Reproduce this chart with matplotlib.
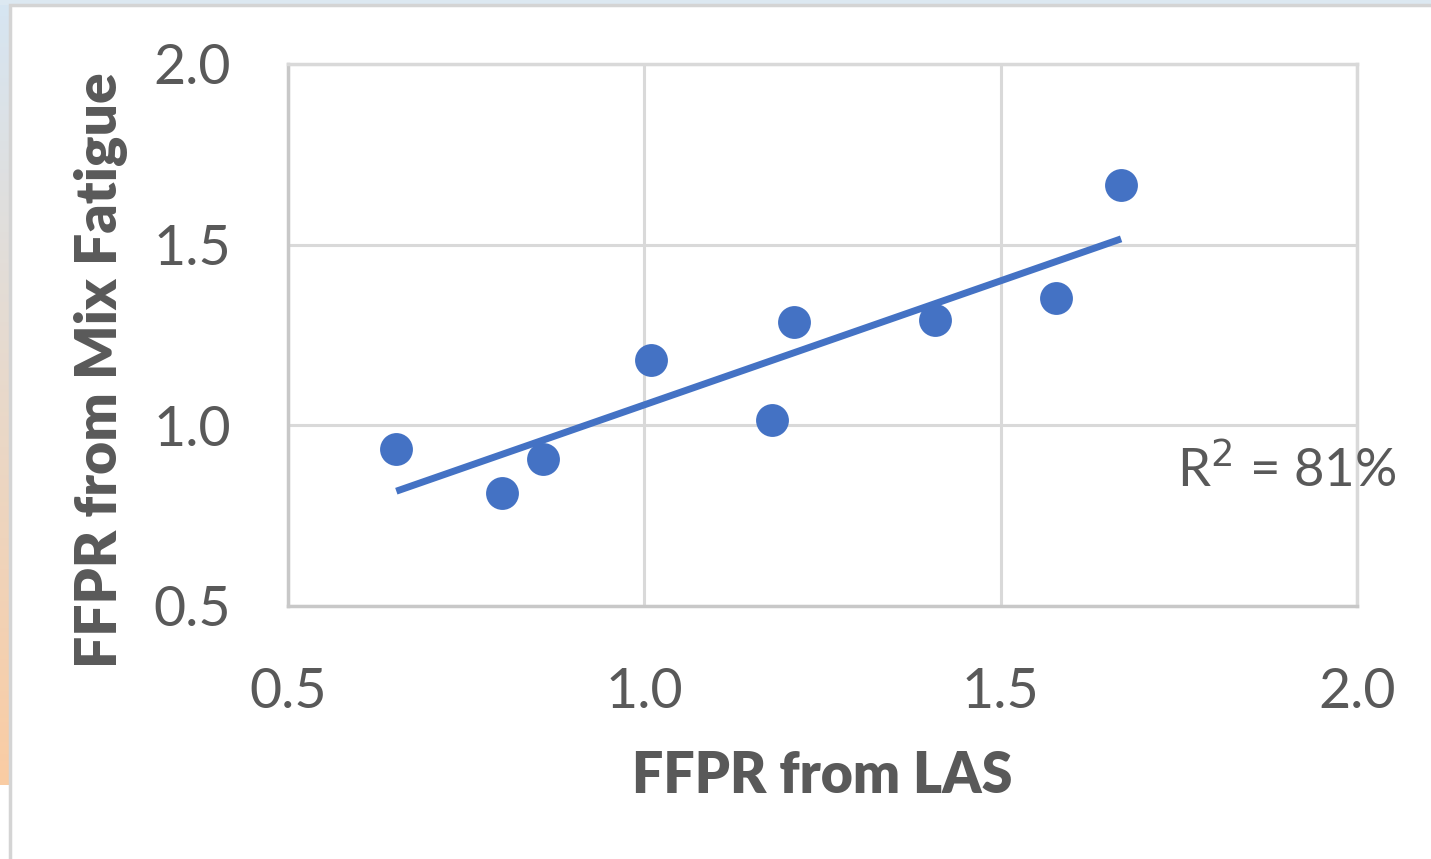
import numpy as np
import matplotlib
matplotlib.use("Agg")
import matplotlib.pyplot as plt
from matplotlib.patches import Rectangle

# Data
ffpr_las = [0.652, 0.800, 0.858, 1.009, 1.179, 1.210, 1.408, 1.578, 1.669]
ffpr_mix = [0.935, 0.813, 0.907, 1.181, 1.015, 1.286, 1.292, 1.352, 1.665]
tick_vals = [0.5, 1.0, 1.5, 2.0]
tick_labels = ["0.5", "1.0", "1.5", "2.0"]
r2_label = "R$^2$ = 81%"

W, H = 1431, 859
fig = plt.figure(figsize=(W / 100, H / 100), dpi=100)
fig.patch.set_facecolor("white")

# screenshot edge: gradient strip on left, light strip on top
bg = fig.add_axes([0, 0, 1, 1], zorder=-10)
bg.set_xlim(0, W); bg.set_ylim(H, 0); bg.axis("off")
grad = np.linspace(0, 1, 200)[:, None]
c1 = np.array([0.84, 0.90, 0.95]); c2 = np.array([0.98, 0.80, 0.64])
img = c1[None, None, :] * (1 - grad[:, :, None]) + c2[None, None, :] * grad[:, :, None]
bg.imshow(img, extent=[0, 10, 785, 0], aspect="auto")
bg.add_patch(Rectangle((0, 0), W, 5, color="#DCE8F1", lw=0))
bg.add_patch(Rectangle((10, 5), W, H, facecolor="white", edgecolor="#D4D4D4", lw=2.5))

ax = fig.add_axes([288 / W, 1 - 606 / H, (1357 - 288) / W, (606 - 64) / H])
ax.set_xlim(0.5, 2.0)
ax.set_ylim(0.5, 2.0)
ax.set_xticks(tick_vals, tick_labels)
ax.set_yticks(tick_vals, tick_labels)
ax.grid(True, color="#D9D9D9", lw=2.2)
ax.set_axisbelow(True)
for s in ax.spines.values():
    s.set_color("#D9D9D9")
    s.set_linewidth(2.5)
ax.spines["left"].set_color("#C8C8C8")
ax.spines["bottom"].set_color("#C8C8C8")
ax.tick_params(length=0, labelsize=40, labelcolor="#595959")
ax.tick_params(axis="y", pad=41)
ax.tick_params(axis="x", pad=44)
for lab in ax.get_xticklabels() + ax.get_yticklabels():
    lab.set_family("Lato")

# trend line (least squares)
x = np.array(ffpr_las); y = np.array(ffpr_mix)
m, b = np.polyfit(x, y, 1)
xl = np.array([x.min(), x.max()])
ax.plot(xl, m * xl + b, color="#4472C4", lw=5, solid_capstyle="butt", zorder=3)
ax.scatter(x, y, s=560, color="#4472C4", zorder=4, lw=0, clip_on=False)

fig.text(1177 / W, 1 - 487 / H, r2_label, fontsize=38, color="#595959",
         family="Lato", ha="left", va="baseline")
fig.text(822 / W, 1 - 776 / H, "FFPR from LAS", fontsize=40, color="#595959",
         family="Lato", weight="heavy", ha="center", va="center")
fig.text(101 / W, 1 - 370 / H, "FFPR from Mix Fatigue", fontsize=41, color="#595959",
         family="Lato", weight="heavy", ha="center", va="center", rotation=90)

fig.savefig("out.png", dpi=100, facecolor="white")
